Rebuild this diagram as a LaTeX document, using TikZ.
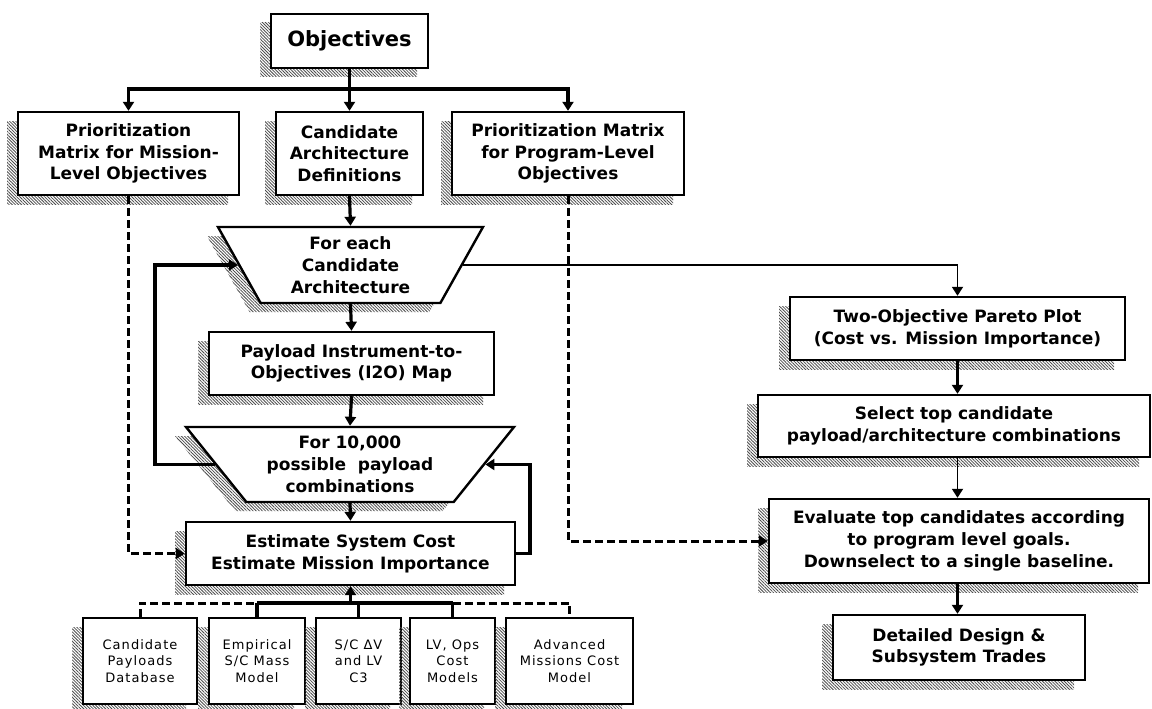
\documentclass[tikz,border=0pt]{standalone}
\usepackage{fontspec}
\setmainfont{DejaVu Sans}
\newfontfamily\smallfont{DejaVu Sans}[LetterSpace=8]
\usetikzlibrary{arrows.meta,shapes.geometric,shadows,patterns.meta}

\begin{document}
\begin{tikzpicture}[x=1pt,y=-1pt,
  shad/.style={general shadow={shadow xshift=-11pt,shadow yshift=-9pt,pattern={Lines[angle=-45,distance=2.2pt,line width=0.8pt]},pattern color=black!70}},
  box/.style={draw,line width=2.4pt,fill=white,shad,inner sep=0pt,align=center,font=\bfseries\fontsize{17}{21.7}\selectfont},
  trap/.style={box,trapezium,shape border rotate=180,trapezium stretches body=true},
  sbox/.style={draw,line width=2pt,fill=white,shad,inner sep=0pt,align=center,minimum height=86pt,font=\smallfont\fontsize{13}{16.7}\selectfont},
  tip/.style={-{Triangle[width=11pt,length=9pt]}},
  conn/.style={line width=3.2pt,tip},
  thinconn/.style={line width=1.8pt,tip},
  dashline/.style={line width=3pt,dash pattern=on 8pt off 4pt},
  dconn/.style={dashline,tip},
  solidline/.style={line width=3.2pt}
]
\fill[white] (0,0) rectangle (1152,709);
\useasboundingbox (0,0) rectangle (1152,709);

% top row
\node[box,minimum width=157pt,minimum height=54pt,font=\bfseries\fontsize{21}{25}\selectfont] (obj) at (349.5,41) {Objectives};
\node[box,minimum width=221pt,minimum height=83pt] (pm) at (128.5,153.5) {Prioritization\\Matrix for Mission-\\Level Objectives};
\node[box,minimum width=147pt,minimum height=83pt] (ca) at (349.5,153.5) {Candidate\\Architecture\\Definitions};
\node[box,minimum width=232pt,minimum height=83pt] (pp) at (568,153.5) {Prioritization Matrix\\for Program-Level\\Objectives};

% central column
\node[trap,trapezium angle=53,minimum width=265pt,minimum height=76pt] (t1) at (350.5,265) {For each\\Candidate\\Architecture};
\node[box,minimum width=285pt,minimum height=63pt] (pay) at (351.5,363.5) {Payload Instrument-to-\\Objectives (I2O) Map};
\node[trap,trapezium angle=43,minimum width=328pt,minimum height=75pt] (t2) at (350,464.5) {For 10,000\\possible\ \ payload\\combinations};
\node[box,minimum width=329pt,minimum height=63pt] (est) at (350.5,553.5) {Estimate System Cost\\Estimate Mission Importance};

% bottom models
\node[sbox,minimum width=114pt] (ma) at (140,661) {Candidate\\Payloads\\Database};
\node[sbox,minimum width=96pt] (mb) at (257,661) {Empirical\\S/C Mass\\Model};
\node[sbox,minimum width=85pt] (mc) at (358.5,661) {S/C ΔV\\and LV\\C3};
\node[sbox,minimum width=85pt] (md) at (452.5,661) {LV, Ops\\Cost\\Models};
\node[sbox,minimum width=127pt] (me) at (569.5,661) {Advanced\\Missions Cost\\Model};

% right column
\node[box,minimum width=335pt,minimum height=63pt] (two) at (957.5,328.5) {Two-Objective Pareto Plot\\(Cost vs. Mission Importance)};
\node[box,minimum width=392pt,minimum height=62pt] (sel) at (954,426) {Select top candidate\\payload/architecture combinations};
\node[box,minimum width=380pt,minimum height=84pt] (eval) at (959,541) {Evaluate top candidates according\\to program level goals.\\Downselect to a single baseline.};
\node[box,minimum width=252pt,minimum height=65pt] (det) at (959,647.5) {Detailed Design \&\\Subsystem Trades};

% coordinates
\coordinate (bar) at (349.5,89);
\coordinate (lx) at (155,0);
\coordinate (rx) at (530,0);
\coordinate (bus) at (0,603);

% top distribution
\draw[solidline] (obj.south) -- (bar);
\draw[conn] (bar) -| (pm.north);
\draw[conn] (bar) -| (pp.north);
\draw[conn] (bar) -- (ca.north);

% central flow
\draw[conn] (ca.south) -- (t1.north);
\draw[conn] (t1.south) -- (pay.north);
\draw[conn] (pay.south) -- (t2.north);
\draw[conn] (t2.south) -- (est.north);

% loops
\draw[conn] (t2.west) -- (t2.west -| lx) |- (t1.west);
\draw[conn] (est.east) -- (est.east -| rx) |- (t2.east);

% to right column
\draw[thinconn] (t1.east) -| (two.north);
\draw[conn] (two.south) -- (two.south |- sel.north);
\draw[thinconn] (two.south |- sel.south) -- (two.south |- eval.north);
\draw[conn] (two.south |- eval.south) -- (two.south |- det.north);

% dashed inputs
\draw[dconn] (pm.south) |- (est.west);
\draw[dconn] (pp.south) |- (eval.west);

% bottom bus
\draw[dashline] (ma.north) -- (ma.north |- bus) -- (mb.north |- bus);
\draw[solidline] (mb.north |- bus) -- (md.north |- bus);
\draw[dashline] (md.north |- bus) -- (me.north |- bus) -- (me.north);
\draw[solidline] (mb.north) -- (mb.north |- bus);
\draw[solidline] (mc.north) -- (mc.north |- bus);
\draw[solidline] (md.north) -- (md.north |- bus);
\draw[conn] (est.south |- bus) -- (est.south);
\end{tikzpicture}
\end{document}
